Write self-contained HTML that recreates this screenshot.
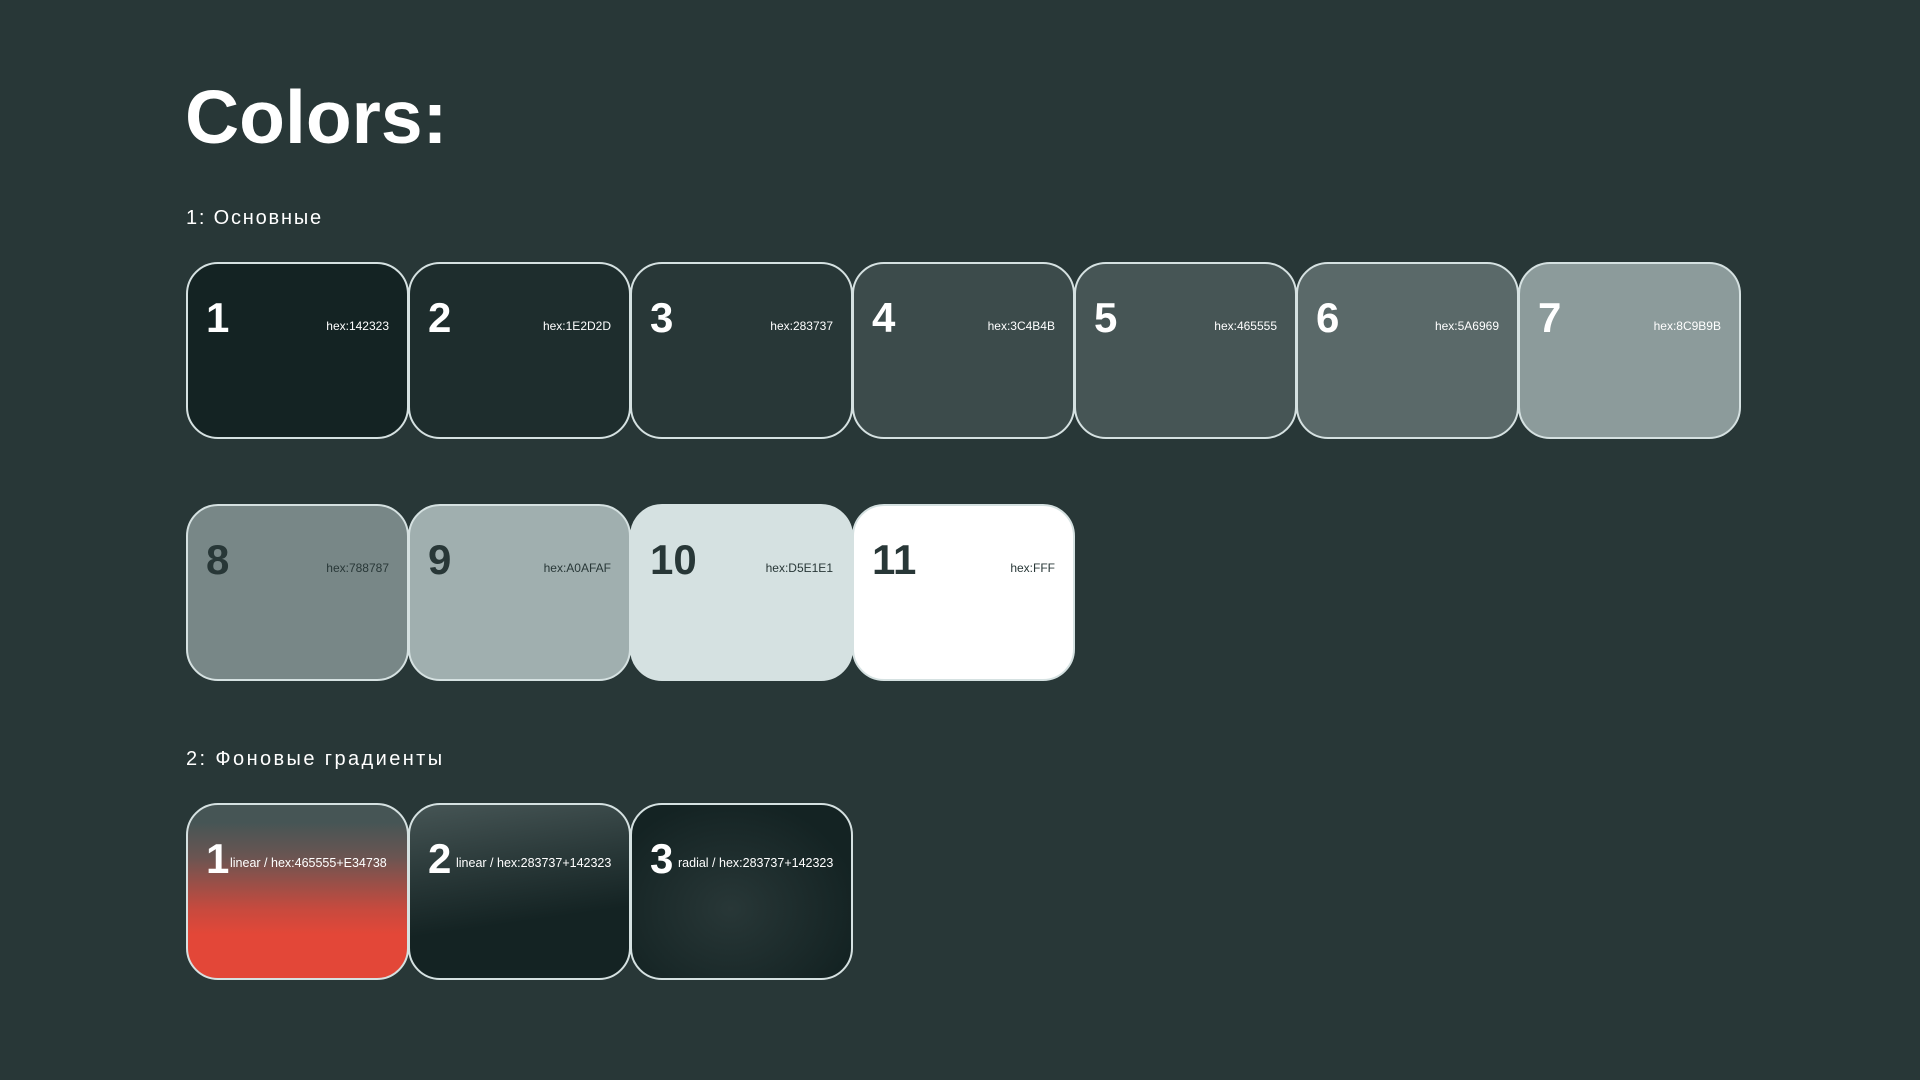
<!DOCTYPE html>
<html><head><meta charset="utf-8"><style>
body{margin:0;width:1920px;height:1080px;background:#283737;font-family:"Liberation Sans",sans-serif;position:relative;overflow:hidden;color:#fff}
.t{position:absolute;left:185px;top:80px;font-size:75px;font-weight:bold;letter-spacing:0px;line-height:1}
.s{position:absolute;left:186px;font-size:20px;letter-spacing:1.8px;line-height:1}
.c{position:absolute;width:219px;height:173px;border:2px solid #d5e1e1;border-radius:32px;box-sizing:content-box}
.n{position:absolute;left:18px;top:33px;font-size:42px;font-weight:bold;line-height:1}
.h{position:absolute;right:18px;top:56px;font-size:12px;line-height:1}
.d{color:#283737}
.g{position:absolute;top:52px;font-size:12.5px;line-height:1;white-space:nowrap}
</style></head><body>
<div class="t">Colors:</div>
<div class="s" style="top:208px">1: Основные</div>
<div class="c" style="left:186px;top:262px;background:#142323"><div class="n">1</div><div class="h">hex:142323</div></div>
<div class="c" style="left:408px;top:262px;background:#1e2d2d"><div class="n">2</div><div class="h">hex:1E2D2D</div></div>
<div class="c" style="left:630px;top:262px;background:#283737"><div class="n">3</div><div class="h">hex:283737</div></div>
<div class="c" style="left:852px;top:262px;background:#3c4b4b"><div class="n">4</div><div class="h">hex:3C4B4B</div></div>
<div class="c" style="left:1074px;top:262px;background:#465555"><div class="n">5</div><div class="h">hex:465555</div></div>
<div class="c" style="left:1296px;top:262px;background:#5a6969"><div class="n">6</div><div class="h">hex:5A6969</div></div>
<div class="c" style="left:1518px;top:262px;background:#8c9b9b"><div class="n">7</div><div class="h">hex:8C9B9B</div></div>
<div class="c d" style="left:186px;top:504px;background:#788787"><div class="n">8</div><div class="h">hex:788787</div></div>
<div class="c d" style="left:408px;top:504px;background:#a0afaf"><div class="n">9</div><div class="h">hex:A0AFAF</div></div>
<div class="c d" style="left:630px;top:504px;background:#d5e1e1"><div class="n">10</div><div class="h">hex:D5E1E1</div></div>
<div class="c d" style="left:852px;top:504px;background:#ffffff"><div class="n">11</div><div class="h">hex:FFF</div></div>
<div class="s" style="top:749px;letter-spacing:2.4px">2: Фоновые градиенты</div>
<div class="c" style="left:186px;top:803px;background:linear-gradient(180deg,#465555 10%,#6a5552 30%,#c74a3e 60%,#e34738 75%)"><div class="n">1</div><div class="g" style="left:42px">linear / hex:465555+E34738</div></div>
<div class="c" style="left:408px;top:803px;background:linear-gradient(172deg,#465555 0%,#2a3939 35%,#142323 65%)"><div class="n">2</div><div class="g" style="left:46px">linear / hex:283737+142323</div></div>
<div class="c" style="left:630px;top:803px;background:radial-gradient(ellipse at 45% 60%,#283737 0%,#1c2b2b 45%,#142323 75%)"><div class="n">3</div><div class="g" style="left:46px">radial / hex:283737+142323</div></div>
</body></html>
